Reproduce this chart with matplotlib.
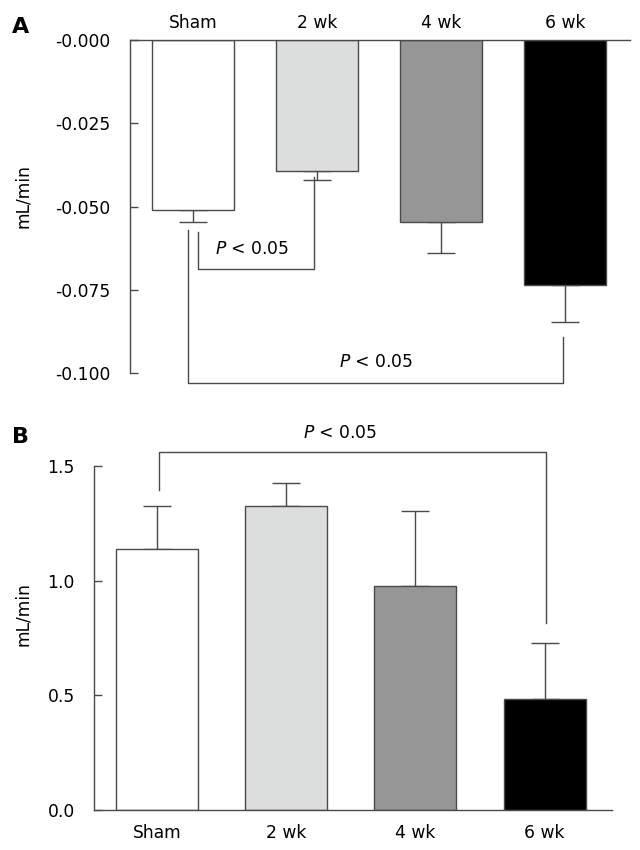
import matplotlib
matplotlib.use("Agg")
import matplotlib.pyplot as plt
import numpy as np

# data
groups = ["Sham", "2 wk", "4 wk", "6 wk"]
colors = ["#ffffff", "#dcdedd", "#969696", "#000000"]

a_mean = [-0.0510, -0.0393, -0.0546, -0.0735]
a_err = [0.0036, 0.0027, 0.0093, 0.0111]
a_ticks = [-0.100, -0.075, -0.050, -0.025, 0.0]
a_ticklabels = ["-0.100", "-0.075", "-0.050", "-0.025", "-0.000"]

b_mean = [1.14, 1.327, 0.977, 0.484]
b_err = [0.186, 0.100, 0.327, 0.244]
b_ticks = [0.0, 0.5, 1.0, 1.5]
b_ticklabels = ["0.0", "0.5", "1.0", "1.5"]

# significance brackets: (x_left, y_left_end, x_right, y_right_end, y_bar, text_x, text_y)
a_brackets = [
    (0.04, -0.0576, 0.976, -0.0411, -0.0687, 0.476, -0.0627),
    (-0.04, -0.0570, 2.984, -0.0891, -0.1030, 1.476, -0.0966),
]
b_brackets = [
    (0.015, 1.396, 3.01, 0.816, 1.561, 1.42, 1.644),
]
sig_text = r"$\it{P}$ < 0.05"

plt.rcParams["font.family"] = ["DejaVu Sans"]
plt.rcParams["font.size"] = 12.3
line_c = "#4a4a4a"

fig = plt.figure(figsize=(6.4, 8.5), dpi=100)
x = np.arange(len(groups))


def draw_brackets(ax, brackets):
    for xl, yl, xr, yr, yb, tx, ty in brackets:
        ax.plot([xl, xl, xr, xr], [yl, yb, yb, yr], color=line_c, lw=1,
                clip_on=False)
        ax.text(tx, ty, sig_text, ha="center", va="center", fontsize=12.3)


# ---- panel A ----
axA = fig.add_axes([130 / 640, 1 - 373 / 850, 500 / 640, 333 / 850])
axA.bar(x, a_mean, width=0.66, color=colors, edgecolor=line_c, linewidth=1,
        zorder=2)
# bars hang down, so only the lower error is shown
axA.errorbar(x, a_mean, yerr=[a_err, np.zeros(4)], fmt="none", ecolor=line_c,
             elinewidth=1, capsize=10.4, capthick=1, zorder=1)
axA.set_xlim(-0.508, 3.524)
axA.set_ylim(-0.1, 0)
axA.set_yticks(a_ticks)
axA.set_yticklabels(a_ticklabels)
axA.xaxis.tick_top()
axA.set_xticks(x)
axA.set_xticklabels(groups)
axA.tick_params(axis="x", length=0, pad=6)
axA.tick_params(axis="y", direction="in", length=6, width=1, color=line_c,
                pad=14.4)
for s in ["bottom", "right"]:
    axA.spines[s].set_visible(False)
for s in ["top", "left"]:
    axA.spines[s].set_color(line_c)
    axA.spines[s].set_linewidth(1)
draw_brackets(axA, a_brackets)

# ---- panel B ----
axB = fig.add_axes([94 / 640, 1 - 810 / 850, 518 / 640, 344 / 850])
axB.bar(x, b_mean, width=0.635, color=colors, edgecolor=line_c, linewidth=1,
        zorder=2)
axB.errorbar(x, b_mean, yerr=[np.zeros(4), b_err], fmt="none", ecolor=line_c,
             elinewidth=1, capsize=10.4, capthick=1, zorder=1)
axB.set_xlim(-0.488, 3.522)
axB.set_ylim(0, 1.5)
axB.set_yticks(b_ticks)
axB.set_yticklabels(b_ticklabels)
axB.set_xticks(x)
axB.set_xticklabels(groups)
axB.tick_params(axis="x", length=0, pad=10)
axB.tick_params(axis="y", direction="in", length=6, width=1, color=line_c,
                pad=13.7)
for s in ["top", "right"]:
    axB.spines[s].set_visible(False)
for s in ["bottom", "left"]:
    axB.spines[s].set_color(line_c)
    axB.spines[s].set_linewidth(1)
draw_brackets(axB, b_brackets)

# panel letters and y labels
fig.text(12 / 640, 1 - 27 / 850, "A", fontsize=16, fontweight="bold",
         va="center", ha="left")
fig.text(12 / 640, 1 - 437 / 850, "B", fontsize=16, fontweight="bold",
         va="center", ha="left")
fig.text(23 / 640, 1 - 196 / 850, "mL/min", rotation=90, ha="center",
         va="center")
fig.text(23 / 640, 1 - 614 / 850, "mL/min", rotation=90, ha="center",
         va="center")

fig.savefig("out.png", dpi=100)
